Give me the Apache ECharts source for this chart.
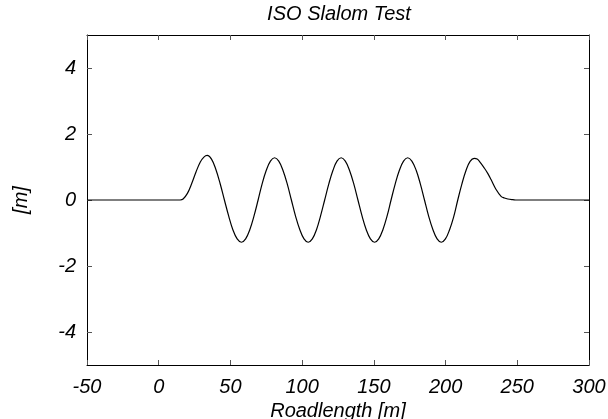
<!DOCTYPE html>
<html>
<head>
<meta charset="utf-8">
<script src="https://cdn.jsdelivr.net/npm/echarts@6/dist/echarts.min.js"></script>
<style>
  html, body { margin: 0; padding: 0; background: #fff; }
  #chart { width: 608px; height: 419px; }
</style>
</head>
<body>
<div id="chart"></div>
<script>
// road position along the slalom [m]
var roadX = [
  -50, 0, 15, 17, 20, 23, 26, 29, 31.5, 33.8,
  36.8, 39.8, 42.8, 45.8, 48.8, 51.7, 54.7, 57.7,
  60.6, 63.5, 66.4, 69.3, 72.1, 75, 77.9, 80.8,
  83.7, 86.6, 89.6, 92.5, 95.4, 98.4, 101.3, 104.2,
  107.1, 110, 112.8, 115.7, 118.6, 121.5, 124.3, 127.2,
  130.1, 133, 136, 138.9, 141.8, 144.7, 147.6, 150.5,
  153.4, 156.3, 159.2, 162, 164.9, 167.8, 170.7, 173.6,
  176.5, 179.5, 182.4, 185.3, 188.2, 191.2, 194.1, 197,
  199.9, 202.8, 205.6, 208.5, 211.4, 214.3, 217.1, 220,
  222, 224, 227, 229.5, 231.7, 235.2, 238.7, 241, 243.4, 247, 250, 300
];
// lateral offset [m]
var lateral = [
  0, 0, 0, 0.03, 0.2, 0.5, 0.85, 1.15, 1.3, 1.35,
  1.24, 0.93, 0.5, 0, -0.49, -0.9, -1.18, -1.28,
  -1.18, -0.9, -0.49, 0, 0.49, 0.9, 1.18, 1.28,
  1.18, 0.9, 0.49, 0, -0.49, -0.9, -1.18, -1.28,
  -1.18, -0.9, -0.49, 0, 0.49, 0.9, 1.18, 1.28,
  1.18, 0.9, 0.49, 0, -0.49, -0.9, -1.18, -1.28,
  -1.18, -0.9, -0.49, 0, 0.49, 0.9, 1.18, 1.28,
  1.18, 0.9, 0.49, 0, -0.49, -0.9, -1.18, -1.28,
  -1.18, -0.9, -0.52, 0, 0.49, 0.9, 1.17, 1.26,
  1.24, 1.15, 0.97, 0.8, 0.62, 0.32, 0.11, 0.06, 0.03, 0.01, 0, 0
];
var yTicks = [-4, -2, 0, 2, 4];

var points = roadX.map(function (x, i) { return [x, lateral[i]]; });

var font = "'Liberation Sans', Arial, sans-serif";
var tickCol = '#555';

var chart = echarts.init(document.getElementById('chart'));

var option = {
  animation: false,
  backgroundColor: '#fff',
  title: {
    text: 'ISO Slalom Test',
    left: 339,
    textAlign: 'center',
    top: 4,
    padding: 0,
    textStyle: { fontFamily: font, fontStyle: 'italic', fontWeight: 'normal', fontSize: 20, color: '#000' }
  },
  grid: { left: 87, right: 19, top: 35, bottom: 54, containLabel: false, outerBoundsMode: 'none' },
  xAxis: [{
    type: 'value',
    min: -50, max: 300, interval: 50,
    name: 'Roadlength [m]',
    nameLocation: 'middle',
    nameGap: 33,
    nameTextStyle: { fontFamily: font, fontStyle: 'italic', fontSize: 20, color: '#000' },
    axisLine: { show: true, onZero: false, lineStyle: { color: '#000', width: 1 } },
    axisTick: { show: true, inside: true, length: 5, lineStyle: { color: tickCol } },
    axisLabel: { fontFamily: font, fontStyle: 'italic', fontSize: 20, color: '#000', margin: 12 },
    splitLine: { show: false }
  }, {
    type: 'value', position: 'top',
    min: -50, max: 300, interval: 50,
    axisLine: { show: true, onZero: false, lineStyle: { color: '#000', width: 1 } },
    axisTick: { show: true, inside: true, length: 5, lineStyle: { color: tickCol } },
    axisLabel: { show: false },
    splitLine: { show: false }
  }],
  yAxis: [{
    type: 'value',
    min: -5, max: 5,
    name: '[m]',
    nameLocation: 'middle',
    nameGap: 56,
    nameRotate: 90,
    nameTextStyle: { fontFamily: font, fontStyle: 'italic', fontSize: 20, color: '#000' },
    axisLine: { show: true, onZero: false, lineStyle: { color: '#000', width: 1 } },
    axisTick: { show: true, inside: true, length: 5, customValues: yTicks, lineStyle: { color: tickCol } },
    axisLabel: { fontFamily: font, fontStyle: 'italic', fontSize: 20, color: '#000', margin: 11, customValues: yTicks },
    splitLine: { show: false }
  }, {
    type: 'value', position: 'right',
    min: -5, max: 5,
    axisLine: { show: true, onZero: false, lineStyle: { color: '#000', width: 1 } },
    axisTick: { show: true, inside: true, length: 5, customValues: yTicks, lineStyle: { color: tickCol } },
    axisLabel: { show: false },
    splitLine: { show: false }
  }],
  series: [{
    type: 'line',
    data: points,
    smooth: 0.4,
    showSymbol: false,
    lineStyle: { color: '#000', width: 1.2 }
  }]
};
chart.setOption(option);
</script>
</body>
</html>
